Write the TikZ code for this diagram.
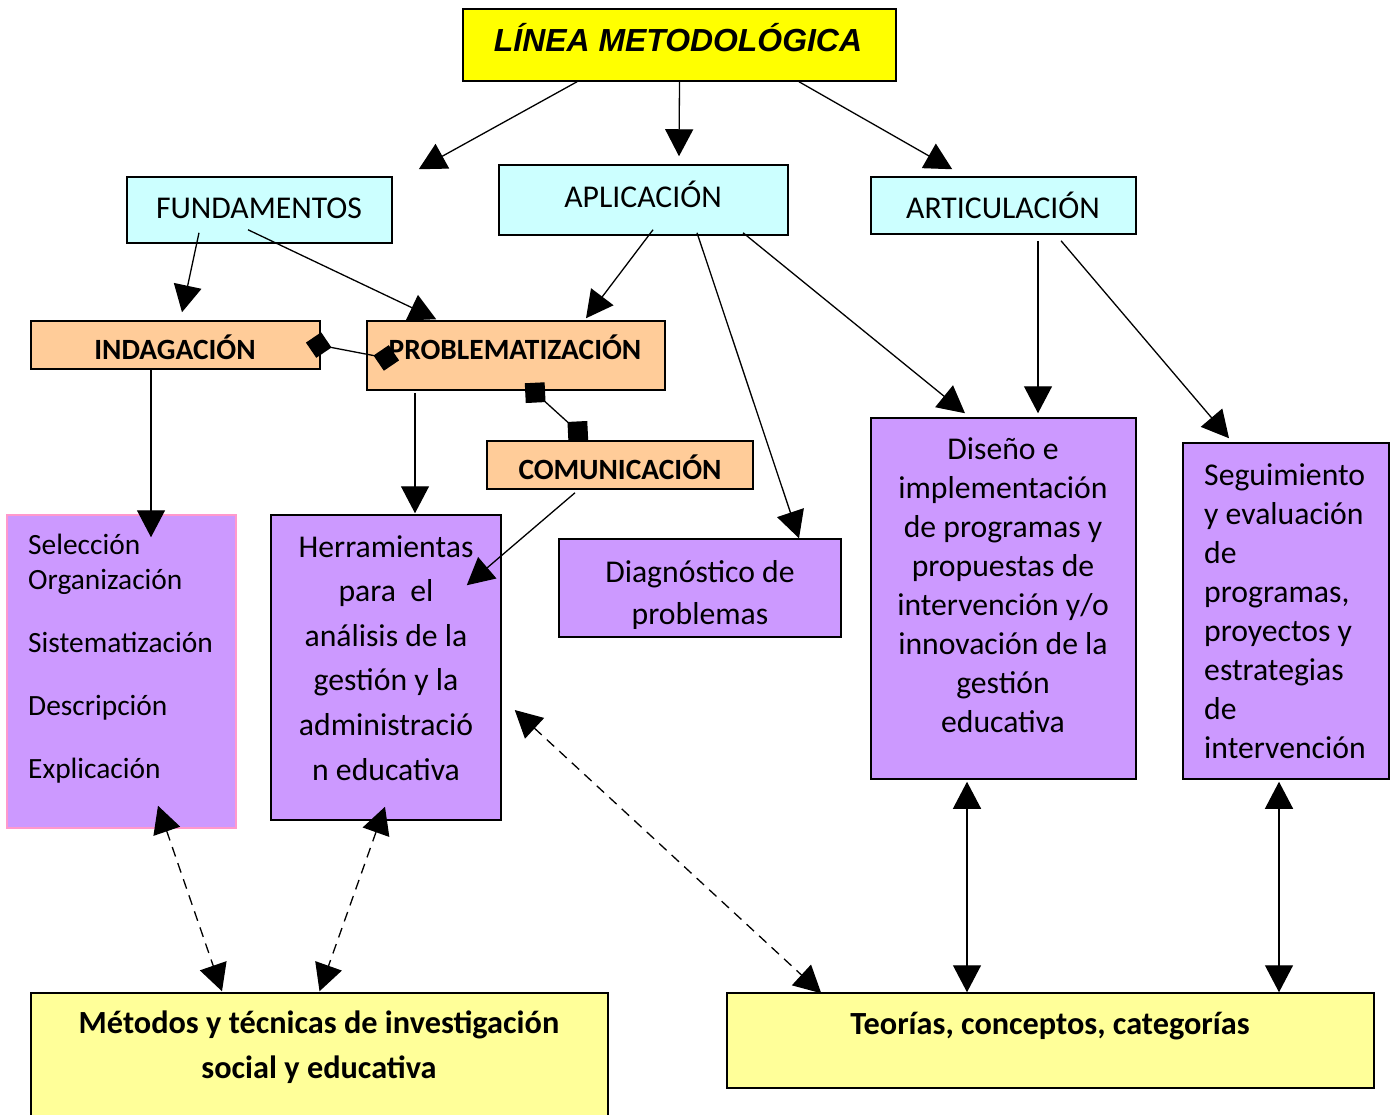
\documentclass[tikz,border=0pt]{standalone}
\usepackage{fontspec}
\usepackage{xcolor}
\usepackage{tikz}
\usetikzlibrary{arrows.meta}
\setmainfont{Carlito}
\newfontfamily\titfont{Liberation Sans}
\definecolor{amarillo}{HTML}{FFFF00}
\definecolor{celeste}{HTML}{CCFFFF}
\definecolor{durazno}{HTML}{FFCC99}
\definecolor{lila}{HTML}{CC99FF}
\definecolor{rosa}{HTML}{FF99CC}
\definecolor{crema}{HTML}{FFFF99}
\tikzset{
  caja/.style={draw,line width=1.5pt,inner sep=0pt},
  texto/.style={inner sep=0pt,font=\fontsize{31.7}{39}\selectfont},
  negrita/.style={inner sep=0pt,font=\fontsize{29.4}{36}\selectfont\bfseries},
  flecha/.style={line width=1.3pt,-{Triangle[length=27pt,width=28pt]}},
  doble/.style={line width=1.3pt,{Triangle[length=27pt,width=28pt]}-{Triangle[length=27pt,width=28pt]}},
  discontinua/.style={doble,dash pattern=on 10pt off 7pt},
}
\begin{document}
\begin{tikzpicture}[x=1pt,y=-1pt]
        \useasboundingbox (0,0) rectangle (1391,1114);
        \node[caja,fill=amarillo,minimum width=433pt,minimum height=72pt] (tit) at (679.5,45) {};
        \node[caja,fill=celeste,minimum width=265pt,minimum height=66pt] (fun) at (259.5,210) {};
        \node[caja,fill=celeste,minimum width=289pt,minimum height=70pt] (apl) at (643.5,200) {};
        \node[caja,fill=celeste,minimum width=265pt,minimum height=57pt] (art) at (1003.5,205.5) {};
        \node[caja,fill=durazno,minimum width=289pt,minimum height=48pt] (ind) at (175.5,345) {};
        \node[caja,fill=durazno,minimum width=298pt,minimum height=69pt] (pro) at (516,355.5) {};
        \node[caja,fill=durazno,minimum width=266pt,minimum height=48pt] (com) at (620,465) {};
        \node[caja,draw=rosa,fill=lila,minimum width=229pt,minimum height=313pt] (sel) at (121.5,671.5) {};
        \node[caja,fill=lila,minimum width=230pt,minimum height=305pt] (her) at (386,667.5) {};
        \node[caja,fill=lila,minimum width=282pt,minimum height=98pt] (dia) at (700,588) {};
        \node[caja,fill=lila,minimum width=265pt,minimum height=361pt] (dis) at (1003.5,598.5) {};
        \node[caja,fill=lila,minimum width=206pt,minimum height=336pt] (seg) at (1286,611) {};
        \node[caja,fill=crema,minimum width=577pt,minimum height=137pt] (met) at (319.5,1061.5) {};
        \node[caja,fill=crema,minimum width=647pt,minimum height=95pt] (teo) at (1050.5,1040.5) {};

        \node[inner sep=0pt,anchor=base,font=\titfont\fontsize{31.9}{38}\selectfont\bfseries\itshape] (ttit) at (678,51) {LÍNEA METODOLÓGICA};
        \node[texto,anchor=base] (tfun) at (259,218) {FUNDAMENTOS};
        \node[texto,anchor=base] (tapl) at (643,207) {APLICACIÓN};
        \node[texto,anchor=base] (tart) at (1003,218) {ARTICULACIÓN};
        \node[negrita,anchor=base] (tind) at (175,359) {INDAGACIÓN};
        \node[negrita,anchor=base] (tpro) at (515,359) {PROBLEMATIZACIÓN};
        \node[negrita,anchor=base] (tcom) at (620,479) {COMUNICACIÓN};
        \node[texto,anchor=base west,align=left,font=\fontsize{29.4}{35}\selectfont] (tsel) at (28,778)
            {Selección\\Organización\\[28pt]Sistematización\\[28pt]Descripción\\[28pt]Explicación};
        \node[texto,anchor=base,align=center,font=\fontsize{31.7}{44.6}\selectfont] (ther) at (386,780)
            {Herramientas\\para\ \ el\\análisis de la\\gestión y la\\administració\\n educativa};
        \begin{scope}
            \clip ([yshift=9pt]dia.south west) rectangle (dia.north east);
            \node[texto,anchor=base,align=center,font=\fontsize{31.7}{42}\selectfont] (tdia) at (700,624)
                {Diagnóstico de\\problemas};
        \end{scope}
        \node[texto,anchor=base,align=center] (tdis) at (1003,732)
            {Diseño e\\implementación\\de programas y\\propuestas de\\intervención y/o\\innovación de la\\gestión\\educativa};
        \node[texto,anchor=base west,align=left] (tseg) at (1204,758)
            {Seguimiento\\y evaluación\\de\\programas,\\proyectos y\\estrategias\\de\\intervención};
        \node[negrita,anchor=base,align=center,font=\fontsize{32.3}{45}\selectfont\bfseries] (tmet) at (319,1078)
            {Métodos y técnicas de investigación\\social y educativa};
        \node[negrita,anchor=base,font=\fontsize{32.3}{45}\selectfont\bfseries] (tteo) at (1050,1034) {Teorías, conceptos, categorías};

        \draw[flecha] ([xshift=-102.5pt]tit.south) -- ([xshift=26pt,yshift=7pt]fun.north east);
        \draw[flecha] (tit.south) -- ([xshift=35.5pt,yshift=8pt]apl.north);
        \draw[flecha] ([xshift=119.5pt]tit.south) -- ([xshift=82pt,yshift=7pt]art.north west);
        \draw[flecha] ([xshift=-60.5pt,yshift=11pt]fun.south) -- ([xshift=6.5pt,yshift=8pt]ind.north);
        \draw[flecha] ([xshift=-11.5pt,yshift=14pt]fun.south) -- ([xshift=70pt,yshift=1pt]pro.north west);
        \draw[flecha] ([xshift=9.5pt,yshift=6pt]apl.south) -- ([xshift=70pt,yshift=2pt]pro.north);
        \draw[flecha] ([xshift=53.5pt,yshift=3pt]apl.south) -- ([xshift=99pt]dia.north);
        \draw[flecha] ([xshift=99.5pt,yshift=3pt]apl.south) -- ([xshift=-38.5pt,yshift=4pt]dis.north);
        \draw[flecha] ([xshift=34.5pt,yshift=-6pt]art.south) -- ([xshift=34.5pt,yshift=4pt]dis.north);
        \draw[flecha] ([xshift=57.5pt,yshift=-6pt]art.south) -- ([xshift=-57pt,yshift=4pt]seg.north);
        \draw[flecha] ([xshift=-24.5pt]ind.south) -- ([xshift=29.5pt,yshift=-23pt]sel.north);
        \draw[flecha] ([xshift=-101pt,yshift=-2pt]pro.south) -- ([xshift=29pt,yshift=1pt]her.north);
        \draw[flecha] ([xshift=-45pt,yshift=-3pt]com.south) -- ([xshift=-35pt,yshift=-71pt]her.north east);
        \draw[line width=1.3pt,{Diamond[length=26pt,width=26pt]}-{Diamond[length=26pt,width=26pt]}]
            ([xshift=-14.8pt,yshift=2.4pt]ind.east) -- ([xshift=32.8pt,yshift=-4.9pt]pro.west);
        \draw[line width=1.3pt,{Diamond[length=28pt,width=28pt]}-{Diamond[length=28pt,width=28pt]}]
            ([xshift=8.8pt,yshift=7.5pt]pro.south) -- ([xshift=-31.8pt,yshift=-0.5pt]com.north);
        \draw[discontinua] ([xshift=36.5pt,yshift=23pt]sel.south) -- ([xshift=-97.5pt,yshift=1pt]met.north);
        \draw[discontinua] ([xshift=-1pt,yshift=14pt]her.south) -- ([yshift=1pt]met.north);
        \draw[discontinua] ([xshift=13pt,yshift=-42.5pt]her.east) -- ([xshift=95pt,yshift=-1pt]teo.north west);
        \draw[doble] ([xshift=-36.5pt,yshift=-2pt]dis.south) -- ([xshift=-83.5pt]teo.north);
        \draw[doble] ([xshift=-7pt,yshift=-2pt]seg.south) -- ([xshift=228.5pt]teo.north);
    \end{tikzpicture}
\end{document}
